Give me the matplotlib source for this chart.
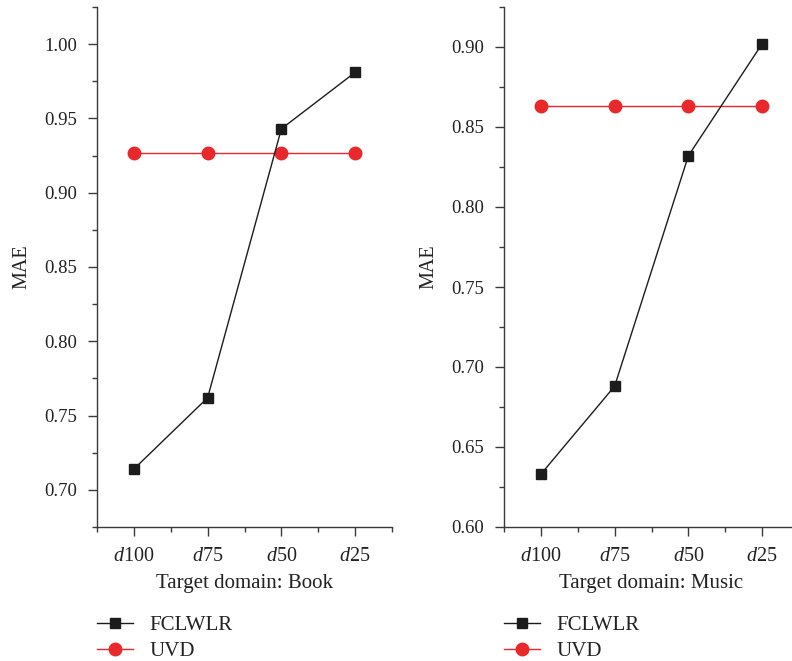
import matplotlib
matplotlib.use('Agg')
import matplotlib.pyplot as plt
from matplotlib.ticker import MultipleLocator, FixedLocator

# Data
categories = ['$d$100', '$d$75', '$d$50', '$d$25']
book_fclwlr = [0.714, 0.762, 0.943, 0.981]
book_uvd = [0.927, 0.927, 0.927, 0.927]
music_fclwlr = [0.633, 0.688, 0.832, 0.902]
music_uvd = [0.863, 0.863, 0.863, 0.863]

plt.rcParams['font.family'] = ['Liberation Serif', 'DejaVu Serif']
plt.rcParams['mathtext.fontset'] = 'custom'
plt.rcParams['mathtext.rm'] = 'Liberation Serif'
plt.rcParams['mathtext.it'] = 'Liberation Serif:italic'
plt.rcParams['font.size'] = 13.5

black = '#1c1c1c'
red = '#e8282b'
axis_col = '#3a3a3a'
text_col = '#222222'

fig = plt.figure(figsize=(7.92, 6.61), dpi=100)
ax1 = fig.add_axes([97 / 792, 134 / 661, 295 / 792, 520 / 661])
ax2 = fig.add_axes([504 / 792, 134 / 661, 295 / 792, 520 / 661])

x = list(range(1, len(categories) + 1))

def draw(ax, fcl, uvd, ylim, xlabel):
    ax.plot(x, fcl, color=black, lw=1.0, marker='s', ms=7, label='FCLWLR', zorder=3)
    ax.plot(x, uvd, color=red, lw=1.0, marker='o', ms=9, label='UVD', zorder=2)
    ax.set_xlim(0.5, 4.5)
    ax.set_ylim(*ylim)
    ax.set_xticks(x)
    ax.set_xticklabels(categories, fontsize=14.5)
    ax.xaxis.set_minor_locator(FixedLocator([0.5, 1.5, 2.5, 3.5, 4.5]))
    ax.yaxis.set_major_locator(MultipleLocator(0.05))
    ax.yaxis.set_minor_locator(MultipleLocator(0.025))
    ax.yaxis.set_major_formatter(matplotlib.ticker.FormatStrFormatter('%.2f'))
    for s in ['top', 'right']:
        ax.spines[s].set_visible(False)
    for s in ['left', 'bottom']:
        ax.spines[s].set_color(axis_col)
        ax.spines[s].set_linewidth(1.0)
    ax.tick_params(which='major', direction='out', length=6.5, width=1.0, color=axis_col,
                   labelcolor=text_col)
    ax.tick_params(which='minor', direction='out', length=3.5, width=1.0, color=axis_col)
    ax.tick_params(axis='y', which='major', pad=8)
    ax.tick_params(axis='x', which='major', pad=8)
    ax.set_ylabel('MAE', color=text_col, fontsize=14.5, labelpad=9)
    ax.set_xlabel(xlabel, color=text_col, fontsize=15, labelpad=6)
    ax.legend(loc='upper left', bbox_to_anchor=(0.0, -0.17), frameon=False,
              fontsize=15, handlelength=1.75, handletextpad=0.75, labelspacing=0.3,
              borderpad=0, borderaxespad=0, labelcolor=text_col)

draw(ax1, book_fclwlr, book_uvd, (0.675, 1.025), 'Target domain: Book')
draw(ax2, music_fclwlr, music_uvd, (0.60, 0.925), 'Target domain: Music')

fig.savefig('out.png', dpi=100)
